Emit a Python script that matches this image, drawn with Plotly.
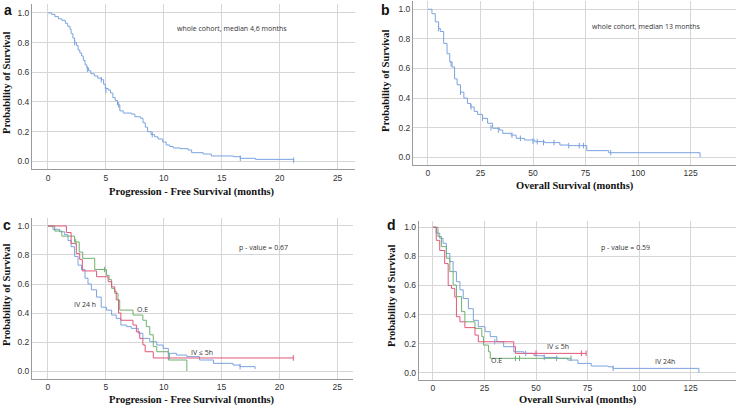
import plotly.graph_objects as go

# ---------------- data ----------------
# Panel a: PFS whole cohort
pfs_all_t = [0, 0.3, 0.6, 0.9, 1.2, 1.5, 1.7, 1.9, 2.0, 2.15, 2.3, 2.45, 2.6, 2.75, 2.9, 3.05, 3.2, 3.35, 3.5, 3.7,
             4.0, 4.3, 4.6, 4.8, 4.95, 5.2, 5.4, 5.6, 5.8, 6.0, 6.2, 6.5, 7.2, 7.5, 8.0, 8.2, 8.4, 8.6, 8.9, 9.2,
             9.5, 9.9, 10.2, 10.5, 10.8, 11.4, 12.1, 12.4, 13.4, 14.1, 16.0, 16.6, 17.9, 21.2]
pfs_all_s = [1.0, 0.99, 0.975, 0.96, 0.95, 0.93, 0.91, 0.89, 0.86, 0.83, 0.80, 0.78, 0.75, 0.73, 0.71, 0.68, 0.65,
             0.63, 0.61, 0.59, 0.575, 0.56, 0.55, 0.52, 0.49, 0.48, 0.46, 0.43, 0.41, 0.38, 0.34, 0.325, 0.318,
             0.30, 0.29, 0.26, 0.23, 0.20, 0.18, 0.165, 0.15, 0.13, 0.11, 0.10, 0.09, 0.085, 0.076, 0.058, 0.049,
             0.036, 0.031, 0.02, 0.013, 0.007]
pfs_all_cens_t = [2.3, 3.4, 4.6, 5.0, 6.1, 9.0, 16.6, 21.2]
pfs_all_cens_s = [0.80, 0.62, 0.55, 0.48, 0.38, 0.18, 0.02, 0.007]

# Panel b: OS whole cohort
os_all_t = [0, 1.9, 3.5, 5.1, 5.9, 7.5, 9.1, 10.4, 11.5, 12.7, 13.9, 15.5, 17.1, 18.8, 20.4, 22.0, 23.6, 26.0, 28.4,
            30.8, 34.0, 35.6, 39.6, 42.0, 46.0, 50.8, 55.6, 62.8, 66.8, 75.6, 86.0, 129.5]
os_all_s = [1.0, 0.97, 0.915, 0.87, 0.85, 0.77, 0.70, 0.645, 0.61, 0.53, 0.49, 0.44, 0.40, 0.364, 0.34, 0.31, 0.29,
            0.263, 0.23, 0.196, 0.184, 0.162, 0.15, 0.128, 0.117, 0.106, 0.099, 0.083, 0.079, 0.045, 0.031, 0.0]
os_all_cens_t = [5, 11, 15.5, 20.5, 26, 30, 33.5, 40, 44, 50, 52, 55, 60, 67, 72, 74, 87]
os_all_cens_s = [0.87, 0.63, 0.44, 0.34, 0.263, 0.2, 0.184, 0.15, 0.128, 0.11, 0.106, 0.1, 0.099, 0.079, 0.079, 0.079, 0.031]

# Panel c: PFS by group
pfs_iv24_t = [0, 0.43, 1.0, 1.44, 1.73, 2.0, 2.3, 2.6, 2.9, 3.2, 3.46, 3.75, 4.2, 4.6, 5.05, 5.5, 5.9, 6.3, 6.8, 7.2,
              7.8, 8.2, 8.8, 9.4, 9.95, 10.4, 11.1, 12.0, 13.1, 14.3, 16.0, 16.6, 17.9]
pfs_iv24_s = [1.0, 0.977, 0.96, 0.94, 0.90, 0.857, 0.79, 0.73, 0.70, 0.64, 0.60, 0.56, 0.51, 0.44, 0.42, 0.386,
              0.363, 0.317, 0.306, 0.294, 0.26, 0.225, 0.202, 0.179, 0.156, 0.122, 0.11, 0.099, 0.076, 0.053,
              0.041, 0.03, 0.014]
pfs_iv5_t = [0, 1.59, 2.0, 2.45, 2.74, 2.97, 4.2, 5.2, 5.5, 5.77, 5.9, 6.1, 6.3, 7.35, 7.64, 7.93, 8.2, 8.4, 9.1, 21.2]
pfs_iv5_s = [1.0, 0.955, 0.88, 0.81, 0.77, 0.69, 0.65, 0.616, 0.58, 0.55, 0.49, 0.40, 0.35, 0.317, 0.27, 0.225,
             0.18, 0.133, 0.09, 0.09]
pfs_oe_t = [0, 0.58, 1.2, 2.3, 2.7, 3.0, 4.04, 5.05, 5.28, 5.5, 5.77, 6.05, 6.2, 7.35, 8.2, 8.5, 8.8, 9.1, 9.4, 10.4, 12.0]
pfs_oe_s = [1.0, 0.965, 0.93, 0.89, 0.82, 0.777, 0.70, 0.66, 0.63, 0.57, 0.536, 0.49, 0.42, 0.386, 0.35, 0.306,
            0.25, 0.168, 0.133, 0.076, 0.0]

# Panel d: OS by group
os_iv24_t = [0, 1.6, 3.3, 4.9, 6.5, 8.2, 9.8, 11.4, 13.1, 14.7, 17.2, 19.6, 22.0, 25.3, 27.8, 31.0, 34.3, 39.2, 44.1,
             49.0, 54.0, 60.5, 65.4, 70.3, 76.8, 85.0, 87.4, 129.0]
os_iv24_s = [1.0, 0.96, 0.924, 0.89, 0.82, 0.764, 0.695, 0.626, 0.57, 0.51, 0.44, 0.36, 0.317, 0.282, 0.248, 0.213,
             0.179, 0.144, 0.133, 0.117, 0.105, 0.099, 0.087, 0.064, 0.046, 0.041, 0.03, 0.0]
os_iv5_t = [0, 1.6, 3.3, 5.7, 7.4, 9.0, 10.6, 11.4, 13.1, 15.5, 20.4, 22.0, 39.2, 40.0, 74.3]
os_iv5_s = [1.0, 0.91, 0.84, 0.75, 0.60, 0.58, 0.52, 0.385, 0.35, 0.31, 0.259, 0.213, 0.18, 0.133, 0.133]
os_oe_t = [0, 1.6, 2.45, 4.1, 6.5, 8.2, 9.8, 11.4, 13.9, 15.5, 20.4, 23.7, 24.5, 27.0, 27.8, 67.0]
os_oe_s = [1.0, 1.0, 0.936, 0.867, 0.787, 0.695, 0.603, 0.523, 0.42, 0.35, 0.305, 0.248, 0.19, 0.144, 0.099, 0.099]

pfs_ticks = [0, 5, 10, 15, 20, 25]
os_ticks = [0, 25, 50, 75, 100, 125]
y_ticks = [0.0, 0.2, 0.4, 0.6, 0.8, 1.0]

BLUE = "#7aa3df"
RED = "#e2577a"
GREEN = "#6fb06f"
W, H = 738, 406

fig = go.Figure()


def px_x(p):
    return p / W


def px_y(p):
    return 1 - p / H


panels = {
    # name: (xaxis, yaxis, xdomain px, ydomain px (top,bottom), xrange, yrange, ticks)
    "a": ("x", "y", (32, 355), (4, 169.3), [-1.38, 26.5], [-0.054, 1.06], pfs_ticks),
    "b": ("x2", "y2", (413, 736), (1, 165), [-7.1, 146.6], [-0.052, 1.056], os_ticks),
    "c": ("x3", "y3", (32, 353), (218, 379), [-1.38, 26.36], [-0.055, 1.055], pfs_ticks),
    "d": ("x4", "y4", (418.7, 736), (220.7, 380), [-6.9, 147], [-0.05, 1.045], os_ticks),
}


def km(t, s, color, xa, ya):
    fig.add_trace(go.Scatter(x=t, y=s, mode="lines", line=dict(color=color, width=1, shape="hv"),
                             xaxis=xa, yaxis=ya, showlegend=False, hoverinfo="skip"))


def cens(t, s, color, xa, ya):
    fig.add_trace(go.Scatter(x=t, y=s, mode="markers",
                             marker=dict(symbol="line-ns-open", size=4, color=color,
                                         line=dict(color=color, width=1)),
                             xaxis=xa, yaxis=ya, showlegend=False, hoverinfo="skip"))


km(pfs_all_t, pfs_all_s, BLUE, "x", "y")
cens(pfs_all_cens_t, pfs_all_cens_s, BLUE, "x", "y")
km(os_all_t, os_all_s, BLUE, "x2", "y2")
cens(os_all_cens_t, os_all_cens_s, BLUE, "x2", "y2")
km(pfs_iv24_t, pfs_iv24_s, BLUE, "x3", "y3")
km(pfs_oe_t, pfs_oe_s, GREEN, "x3", "y3")
km(pfs_iv5_t, pfs_iv5_s, RED, "x3", "y3")
cens([pfs_iv5_t[-1]], [pfs_iv5_s[-1]], RED, "x3", "y3")
cens([10.5, 16.6], [0.1, 0.03], BLUE, "x3", "y3")
cens([2.4, 4.9], [0.89, 0.70], GREEN, "x3", "y3")
km(os_iv24_t, os_iv24_s, BLUE, "x4", "y4")
km(os_oe_t, os_oe_s, GREEN, "x4", "y4")
km(os_iv5_t, os_iv5_s, RED, "x4", "y4")
cens([50, 72, 74.3], [0.133, 0.133, 0.133], RED, "x4", "y4")
cens([40, 42, 67], [0.099, 0.099, 0.099], GREEN, "x4", "y4")
cens([30, 45, 54, 60, 87.4], [0.213, 0.133, 0.105, 0.099, 0.03], BLUE, "x4", "y4")

layout = dict(width=W, height=H, margin=dict(l=0, r=0, t=0, b=0),
              paper_bgcolor="white", plot_bgcolor="white", showlegend=False)

tickfont = dict(family="Liberation Sans, Arial", size=8.5, color="#333333")
for name, (xa, ya, xd, yd, xr, yr, xt) in panels.items():
    xkey = "xaxis" + xa[1:]
    ykey = "yaxis" + ya[1:]
    layout[xkey] = dict(domain=[px_x(xd[0]), px_x(xd[1])], range=xr, tickvals=xt, anchor=ya,
                        showgrid=True, gridcolor="#d6d6d6", gridwidth=1, zeroline=False,
                        showline=True, linecolor="#9a9a9a", linewidth=1, ticks="",
                        tickfont=tickfont)
    layout[ykey] = dict(domain=[px_y(yd[1]), px_y(yd[0])], range=yr, tickvals=y_ticks, anchor=xa,
                        tickformat=".1f", showgrid=True, gridcolor="#d6d6d6", gridwidth=1, zeroline=False,
                        showline=True, linecolor="#9a9a9a", linewidth=1, ticks="",
                        tickfont=tickfont)

fig.update_layout(**layout)

ann = []
serif = dict(family="Liberation Serif, Times New Roman", size=10.5, color="#111111")
note = dict(family="Open Sans", size=7, color="#333333")
label = dict(family="Liberation Sans, Arial", size=14, color="#111111")


def txt(x, y, text, font, **kw):
    d = dict(x=px_x(x), y=px_y(y), xref="paper", yref="paper", text=text, showarrow=False,
             font=font, xanchor="center", yanchor="middle")
    d.update(kw)
    ann.append(d)


# panel letters
txt(8, 10, "<b>a</b>", label)
txt(386, 10, "<b>b</b>", label)
txt(7, 225, "<b>c</b>", label)
txt(391, 225, "<b>d</b>", label)
# y titles
for (x, y) in [(6, 83), (385, 81), (6, 295), (391, 296)]:
    txt(x, y, "<b>Probability of Survival</b>", serif, textangle=-90)
# x titles
txt(192, 192, "<b>Progression - Free Survival (months)</b>", serif)
txt(575, 186, "<b>Overall Survival (months)</b>", serif)
txt(192, 400, "<b>Progression - Free Survival (months)</b>", serif)
txt(578, 400, "<b>Overall Survival (months)</b>", serif)
# notes
txt(232, 28, "whole cohort, median 4,6 months", note)
txt(646, 27, "whole cohort, median 13 months", note)
txt(263, 247, "p - value = 0.67", note)
txt(625, 247, "p - value = 0.59", note)
txt(85, 304, "IV 24 h", note)
txt(142, 309, "O.E", note)
txt(202, 352, "IV \u2264 5h", note)
txt(558, 346, "IV \u2264 5h", note)
txt(496, 360, "O.E", note)
txt(665, 361, "IV 24h", note)

fig.update_layout(annotations=ann)
fig.write_html("out.html", config={"displayModeBar": False},
               post_script="document.body.style.margin='0';document.body.style.padding='0';"
                           "document.body.style.overflow='hidden';")
